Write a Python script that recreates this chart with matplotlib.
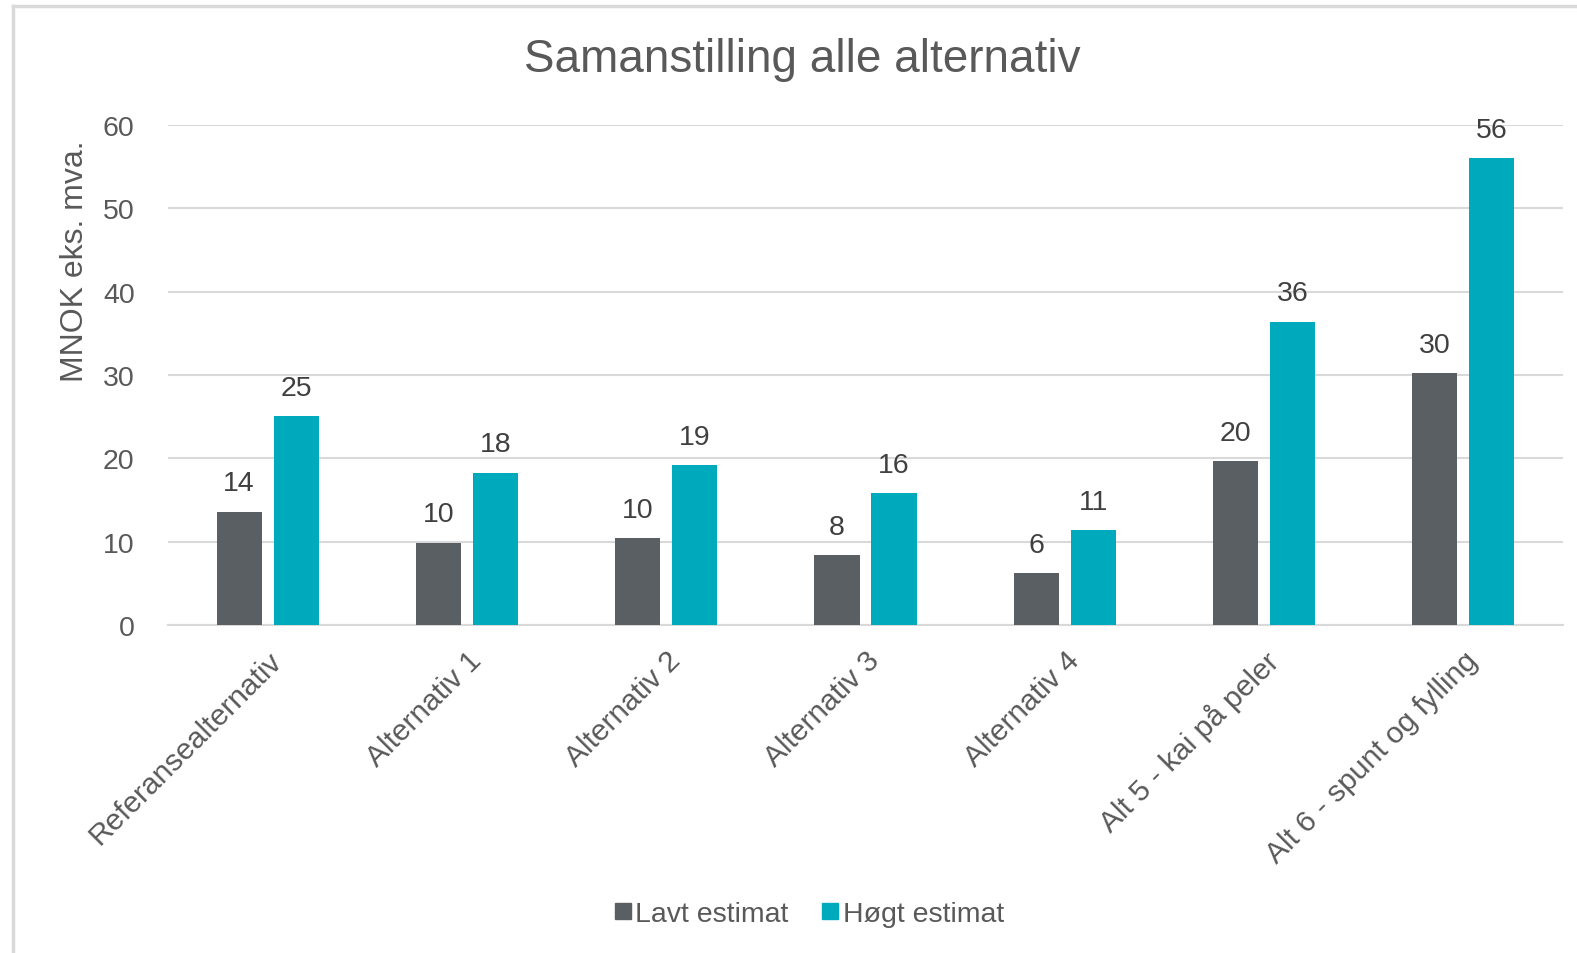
import matplotlib
matplotlib.use("Agg")
import matplotlib.pyplot as plt
import numpy as np
from matplotlib.lines import Line2D

plt.rcParams['font.family'] = ['Liberation Sans', 'DejaVu Sans']

categories = ["Referansealternativ", "Alternativ 1", "Alternativ 2", "Alternativ 3",
              "Alternativ 4", "Alt 5 - kai på peler", "Alt 6 - spunt og fylling"]
lavt = [13.6, 9.9, 10.4, 8.4, 6.2, 19.7, 30.2]
hogt = [25.1, 18.3, 19.2, 15.8, 11.4, 36.4, 56.0]
series_names = ["Lavt estimat", "Høgt estimat"]
yticks = [0, 10, 20, 30, 40, 50, 60]

c_low = "#595f63"
c_high = "#00aabd"
txt = "#595959"
grid_c = "#d9d9d9"
fs = 20.5

fig = plt.figure(figsize=(15.77, 9.54), dpi=100)
ax = fig.add_axes([168/1577, 1-626/954, (1563-168)/1577, (626-126)/954])

x = np.arange(len(categories))
w = 0.226
off = 0.143
b1 = ax.bar(x - off, lavt, w, color=c_low, label=series_names[0], zorder=3)
b2 = ax.bar(x + off, hogt, w, color=c_high, label=series_names[1], zorder=3)

for bars, vals in ((b1, lavt), (b2, hogt)):
    for b, v in zip(bars, vals):
        ax.annotate(f"{v:.0f}", (b.get_x() + b.get_width()/2, v),
                    xytext=(0, 11), textcoords="offset points",
                    ha="center", va="bottom", fontsize=fs, color="#404040")

ax.set_xlim(-0.5, len(categories) - 0.5)
ax.set_ylim(0, 60)
ax.set_yticks(yticks)
ax.set_yticklabels([str(t) for t in yticks], fontsize=fs, color=txt)
ax.set_xticks(x)
ax.set_xticklabels(categories, rotation=45, ha="right", rotation_mode="anchor",
                   fontsize=21.5, color=txt)
ax.tick_params(axis="both", length=0)
ax.tick_params(axis="x", pad=15)
ax.tick_params(axis="y", pad=24)
ax.yaxis.grid(True, color=grid_c, linewidth=1.5, zorder=0)
ax.set_axisbelow(True)
for s in ["top", "right", "left"]:
    ax.spines[s].set_visible(False)
ax.spines["bottom"].set_color(grid_c)
ax.spines["bottom"].set_linewidth(1.5)

ax.set_ylabel("MNOK eks. mva.", fontsize=23, color=txt)
ax.yaxis.set_label_coords((90-168)/1395, (626-261)/500)

fig.text(802/1577, 1-60/954, "Samanstilling alle alternativ", ha="center", va="center",
         fontsize=33, color=txt)

handles = [Line2D([], [], marker="s", linestyle="none", markersize=11, color=c_low),
           Line2D([], [], marker="s", linestyle="none", markersize=11, color=c_high)]
fig.legend(handles, series_names, loc="center", bbox_to_anchor=(807/1577, 1-915/954),
           ncol=2, frameon=False, fontsize=fs, handletextpad=0.0, columnspacing=1.0,
           handlelength=0.9, labelcolor=txt)

# chart frame
fig.add_artist(Line2D([13/1577, 13/1577], [0, 1-7/954], color=grid_c, linewidth=2.5,
                      transform=fig.transFigure))
fig.add_artist(Line2D([13/1577, 1], [1-7/954, 1-7/954], color=grid_c, linewidth=2.5,
                      transform=fig.transFigure))

fig.savefig("out.png", dpi=100)
